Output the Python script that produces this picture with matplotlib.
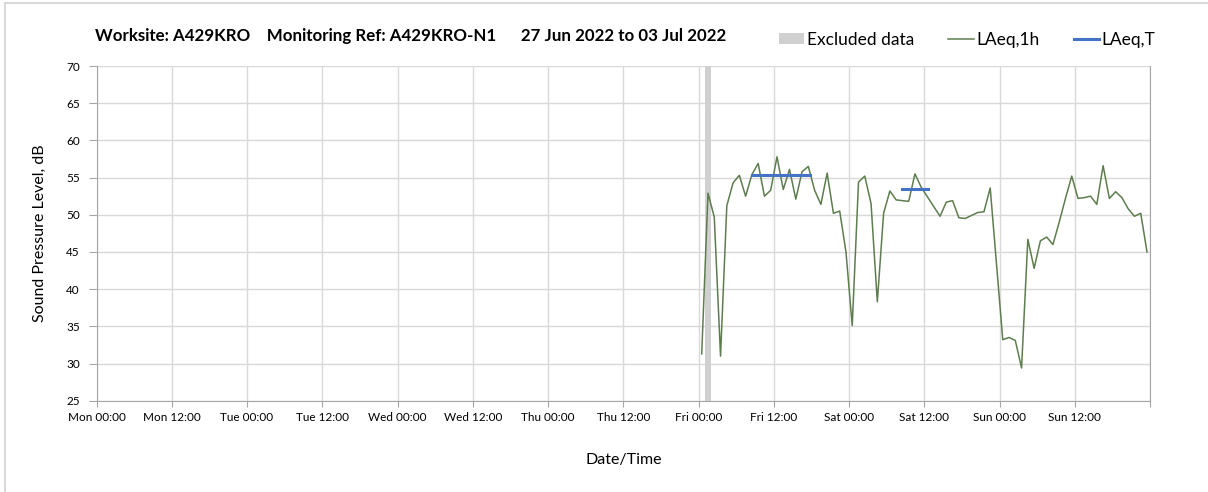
import numpy as np
import matplotlib.pyplot as plt
from matplotlib.patches import Rectangle
from matplotlib.lines import Line2D

# hourly LAeq values, plotted at mid-hour (hours since Mon 00:00)
hours = np.arange(96.5, 168.0, 1.0)
laeq_1h = [31.3, 52.9, 49.7, 31.0, 51.2, 54.3, 55.3, 52.5, 55.4, 56.9,
           52.5, 53.3, 57.8, 53.4, 56.1, 52.1, 55.8, 56.5, 53.3, 51.4,
           55.6, 50.2, 50.5, 45.0, 35.1, 54.4, 55.2, 51.5, 38.3, 50.2,
           53.2, 52.0, 51.9, 51.8, 55.5, 53.7, 52.4, 51.1, 49.8, 51.7,
           51.9, 49.6, 49.5, 49.9, 50.3, 50.4, 53.6, 43.4, 33.2, 33.5,
           33.1, 29.4, 46.7, 42.8, 46.5, 47.0, 46.0, 49.0, 52.2, 55.2,
           52.2, 52.3, 52.5, 51.4, 56.6, 52.2, 53.1, 52.3, 50.8, 49.8,
           50.2, 45.0]

# LAeq,T periods: start hour, end hour, level
laeq_t_start = [104.5, 128.5]
laeq_t_end = [113.7, 132.6]
laeq_t_level = [55.4, 53.5]

# excluded data window
excluded_start = 97.0
excluded_end = 98.0

tick_labels = ['Mon 00:00', 'Mon 12:00', 'Tue 00:00', 'Tue 12:00', 'Wed 00:00',
               'Wed 12:00', 'Thu 00:00', 'Thu 12:00', 'Fri 00:00', 'Fri 12:00',
               'Sat 00:00', 'Sat 12:00', 'Sun 00:00', 'Sun 12:00']

title = 'Worksite: A429KRO    Monitoring Ref: A429KRO-N1      27 Jun 2022 to 03 Jul 2022'

if __name__ == '__main__':
    plt.rcParams['font.family'] = ['Lato', 'DejaVu Sans']
    green = '#5e7d4e'
    blue = '#4472c4'
    grey = '#d0d0d0'
    grid_c = '#d9d9d9'
    spine_c = '#a6a6a6'

    fig = plt.figure(figsize=(12.08, 4.92), dpi=100)
    ax = fig.add_axes([0.0799, 0.1856, 0.8722, 0.6802])

    ax.axvspan(excluded_start, excluded_end, color=grey, lw=0, zorder=1)
    ax.plot(hours, laeq_1h, color=green, lw=1.1, zorder=3)
    for s, e, lv in zip(laeq_t_start, laeq_t_end, laeq_t_level):
        ax.plot([s, e], [lv, lv], color=blue, lw=2.2, zorder=4)

    ax.set_xlim(0, 168)
    ax.set_ylim(25, 70)
    ax.set_xticks(np.arange(0, 169, 12))
    ax.set_xticklabels(tick_labels + [''], fontsize=8.5)
    ax.set_yticks(range(25, 71, 5))
    ax.tick_params(axis='y', labelsize=8.5, length=6, color=spine_c, direction='out', pad=6)
    ax.tick_params(axis='x', length=4, color=spine_c, direction='out', pad=4)
    ax.grid(True, color=grid_c, lw=1.0, zorder=0)
    ax.set_axisbelow(True)
    for side in ['left', 'bottom', 'right']:
        ax.spines[side].set_color(spine_c)
    ax.spines['top'].set_visible(False)

    ax.set_ylabel('Sound Pressure Level, dB', fontsize=11.5, labelpad=14)
    ax.set_xlabel('Date/Time', fontsize=11.5, labelpad=22)

    fig.text(95 / 1208, 1 - 36 / 492, title, fontsize=12.2, fontweight='bold',
             ha='left', va='center')

    handles = [Rectangle((0, 0), 1, 1, color=grey, lw=0),
               Line2D([], [], color=green, lw=1.1),
               Line2D([], [], color=blue, lw=2.2)]
    fig.legend(handles, ['Excluded data', 'LAeq,1h', 'LAeq,T'], loc='center right',
               bbox_to_anchor=(1166 / 1208, 1 - 40 / 492), ncols=3, frameon=False,
               fontsize=12.5, handlelength=1.45, handletextpad=0.17, columnspacing=1.95,
               handleheight=0.6, borderpad=0.1)

    # outer frame
    fig.add_artist(Line2D([5 / 1208, 5 / 1208], [0, 1 - 3 / 492], color='#d9d9d9', lw=1.5,
                          transform=fig.transFigure))
    fig.add_artist(Line2D([5 / 1208, 1], [1 - 3 / 492, 1 - 3 / 492], color='#d9d9d9', lw=1.5,
                          transform=fig.transFigure))

    fig.savefig('out.png', dpi=100)
